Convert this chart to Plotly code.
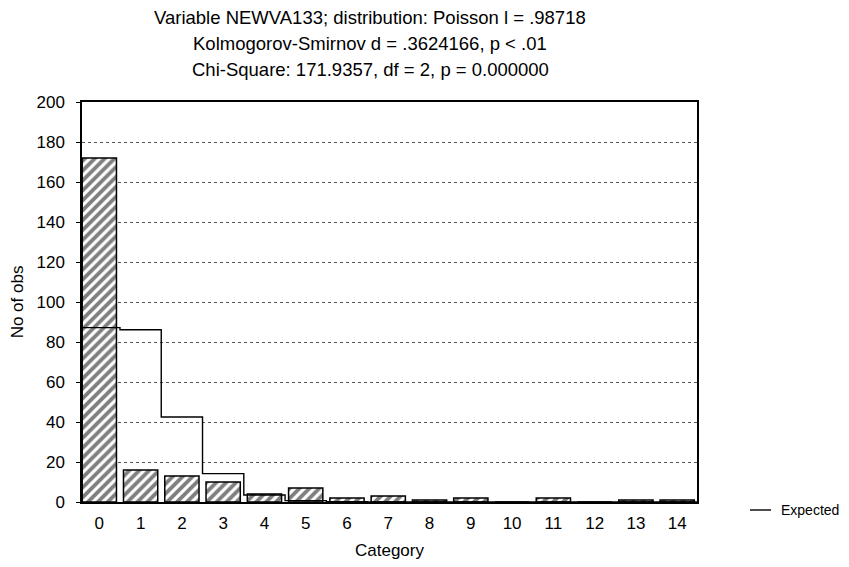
import plotly.graph_objects as go

categories = list(range(15))
observed = [172, 16, 13, 10, 4, 7, 2, 3, 1, 2, 0, 2, 0, 1, 1]
expected = [87.2, 86.1, 42.5, 14.2, 3.5, 0.7, 0.1, 0.02, 0, 0, 0, 0, 0, 0, 0]
tick_labels = [str(c) for c in categories]
titles = [
    "Variable NEWVA133; distribution: Poisson l = .98718",
    "Kolmogorov-Smirnov d = .3624166, p < .01",
    "Chi-Square: 171.9357, df = 2, p = 0.000000",
]
legend_label = "Expected"

font = "Liberation Sans, Arial, sans-serif"
OFF = 8  # page body margin
L, T, W, H = 82 - OFF, 102 - OFF, 615, 400
FW, FH = 849 - OFF, 567 - OFF

def px(xs):
    return (xs - 82) / W

def py(ys):
    return (502 - ys) / H

fig = go.Figure()
fig.add_trace(go.Bar(
    x=categories, y=observed, showlegend=False,
    marker=dict(color="white", line=dict(color="black", width=1.5),
                pattern=dict(shape="/", fgcolor="black", bgcolor="white",
                             size=7, solidity=0.55)),
    width=0.83,
))
step_x = [c - 0.5 for c in categories] + [categories[-1] + 0.5]
step_y = expected + [expected[-1]]
fig.add_trace(go.Scatter(
    x=step_x, y=step_y, mode="lines", line=dict(shape="hv", color="black", width=1.4),
    name=legend_label, showlegend=False,
))

for i, t in enumerate(titles):
    fig.add_annotation(text=t, xref="paper", yref="paper", x=px(370),
                       y=py(17 + 26.5 * i), xanchor="center",
                       yanchor="middle", showarrow=False,
                       font=dict(family=font, size=18.5, color="black"))

# legend drawn in the right margin
fig.add_shape(type="line", xref="paper", yref="paper", x0=px(750), x1=px(771),
              y0=py(510), y1=py(510), line=dict(color="black", width=1.4))
fig.add_annotation(text=legend_label, xref="paper", yref="paper", x=px(780),
                   y=py(510), xanchor="left", yanchor="middle", showarrow=False,
                   borderpad=0,
                   font=dict(family=font, size=14, color="black"))

fig.update_layout(
    width=FW, height=FH,
    margin=dict(l=L, r=FW - L - W, t=T, b=FH - T - H, autoexpand=False),
    paper_bgcolor="white", plot_bgcolor="white",
    font=dict(family=font, size=17, color="black"),
    bargap=0.17,
    showlegend=False,
    xaxis=dict(range=[-0.42, 14.48], tickvals=categories, ticktext=tick_labels,
               showgrid=False, showline=True, linecolor="black", linewidth=1.5,
               mirror=True, ticks="", zeroline=False, automargin=False,
               ticklabelstandoff=5, tickfont=dict(size=17),
               title=dict(text="Category", standoff=12, font=dict(size=17))),
    yaxis=dict(range=[0, 200], dtick=20, showgrid=True, gridcolor="#555",
               griddash="dot", gridwidth=1, showline=True, linecolor="black",
               linewidth=1.5, mirror=True, ticks="outside", ticklen=4,
               tickcolor="black", zeroline=False, automargin=False,
               ticklabelstandoff=8, tickfont=dict(size=17),
               title=dict(text="No of obs", standoff=10, font=dict(size=17))),
)

fig.write_html("out.html")
